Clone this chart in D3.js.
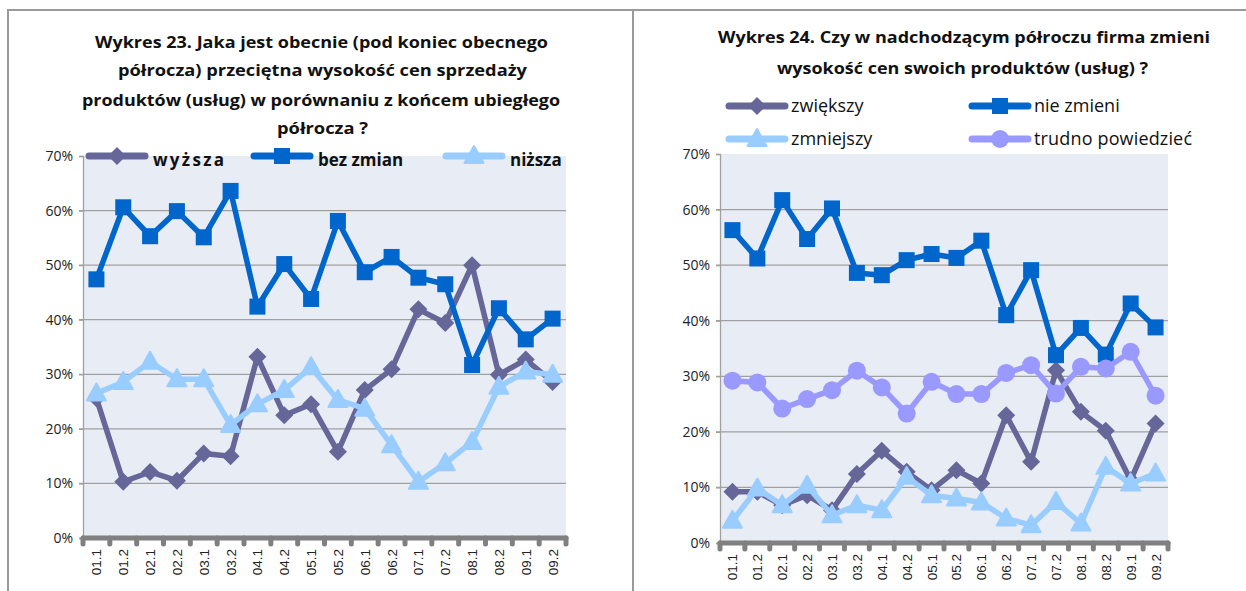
<!DOCTYPE html>
<html>
<head>
<meta charset="utf-8">
<script src="https://cdn.jsdelivr.net/npm/d3@7/dist/d3.min.js"></script>
<style>
  body { margin: 0; background: #fff; }
  svg { display: block; font-family: "Liberation Sans", Arial, sans-serif; }
  .title { font-family: "Open Sans", sans-serif; font-weight: bold; fill: #111; }
  .tick-label { font-size: 13px; fill: #222; }
</style>
</head>
<body>
<script>
/****************************************/
/*****  Data   *****/
/****************************************/
const periods = ["01.1", "01.2", "02.1", "02.2", "03.1", "03.2", "04.1", "04.2", "05.1",
  "05.2", "06.1", "06.2", "07.1", "07.2", "08.1", "08.2", "09.1", "09.2"];
const yTicks = [0, 10, 20, 30, 40, 50, 60, 70];

// Wykres 23
const wyzsza = [25.6, 10.3, 12.1, 10.5, 15.5, 15.0, 33.2, 22.5, 24.5, 15.8, 27.1, 30.9, 41.9, 39.4, 50.0, 29.9, 32.7, 28.6];
const bezZmian = [47.4, 60.6, 55.3, 59.9, 55.1, 63.6, 42.4, 50.2, 43.8, 58.1, 48.7, 51.5, 47.7, 46.5, 31.7, 42.1, 36.4, 40.2];
const nizsza = [26.5, 28.6, 32.3, 29.1, 29.1, 20.7, 24.5, 27.1, 31.3, 25.3, 23.7, 17.0, 10.3, 13.7, 17.6, 27.7, 30.5, 29.9];

// Wykres 24
const zwiekszy = [9.2, 9.2, 6.8, 8.6, 5.9, 12.4, 16.6, 12.8, 9.5, 13.1, 10.7, 23.0, 14.6, 31.1, 23.6, 20.2, 11.3, 21.5];
const nieZmieni = [56.3, 51.2, 61.7, 54.7, 60.2, 48.6, 48.2, 50.9, 52.0, 51.3, 54.4, 41.0, 49.1, 33.8, 38.7, 33.9, 43.1, 38.8];
const zmniejszy = [4.0, 9.8, 6.8, 10.3, 5.0, 6.8, 5.9, 11.9, 8.6, 8.0, 7.3, 4.4, 3.2, 7.4, 3.5, 13.7, 10.7, 12.5];
const trudno = [29.2, 28.9, 24.2, 25.9, 27.5, 31.0, 28.0, 23.3, 29.0, 26.8, 26.8, 30.6, 32.0, 26.9, 31.7, 31.4, 34.4, 26.5];

const colors = { purple: "#666699", blue: "#0066cc", light: "#99ccff", lilac: "#9999ff" };

/****************************************/
/*****  Frame   *****/
/****************************************/
const width = 1246;
const height = 591;
const svg = d3.select("body").append("svg")
  .attr("width", width)
  .attr("height", height);

svg.append("line")
  .attr("x1", 7).attr("x2", width).attr("y1", 10).attr("y2", 10)
  .attr("stroke", "#9a9a9a").attr("stroke-width", 2);
[8, 633].forEach(x => {
  svg.append("line")
    .attr("x1", x).attr("x2", x).attr("y1", 9).attr("y2", height)
    .attr("stroke", "#9a9a9a").attr("stroke-width", 2);
});

// marker shapes
function drawMarker(g, shape, x, y, color) {
  if (shape === "square") {
    g.append("rect").attr("x", x - 8).attr("y", y - 8).attr("width", 16).attr("height", 16).attr("fill", color);
  } else if (shape === "diamond") {
    g.append("path").attr("d", `M${x},${y - 9}L${x + 9},${y}L${x},${y + 9}L${x - 9},${y}Z`).attr("fill", color);
  } else if (shape === "triangle") {
    g.append("path").attr("d", `M${x},${y - 10}L${x + 9.5},${y + 7}L${x - 9.5},${y + 7}Z`)
      .attr("fill", color).attr("stroke", color).attr("stroke-width", 2).attr("stroke-linejoin", "round");
  } else {
    g.append("circle").attr("cx", x).attr("cy", y).attr("r", 9).attr("fill", color);
  }
}

/****************************************/
/*****  Chart builder   *****/
/****************************************/
function drawChart(cfg) {
  const g = svg.append("g");

  // title
  cfg.title.forEach(t => {
    g.append("text")
      .attr("class", "title")
      .attr("x", t.x)
      .attr("y", t.y)
      .attr("font-size", 16.5)
      .attr("textLength", t.w)
      .attr("lengthAdjust", "spacingAndGlyphs")
      .text(t.text);
  });

  const x = d3.scaleBand().domain(periods).range([cfg.left, cfg.right]);
  const y = d3.scaleLinear().domain([0, 70]).range([cfg.bottom, cfg.top]);

  // plot area
  g.append("rect")
    .attr("x", cfg.left).attr("y", cfg.top)
    .attr("width", cfg.right - cfg.left).attr("height", cfg.bottom - cfg.top)
    .attr("fill", "#e8ecf4");

  // gridlines
  g.append("g").selectAll("line")
    .data(yTicks.filter(d => d > 0 && d < 70))
    .join("line")
      .attr("x1", cfg.left - 4).attr("x2", cfg.right)
      .attr("y1", d => y(d)).attr("y2", d => y(d))
      .attr("stroke", "#a0a0a0").attr("stroke-width", 1.3);

  // y axis
  const yAxis = g.append("g")
    .attr("transform", `translate(${cfg.left},0)`)
    .call(d3.axisLeft(y).tickValues(yTicks).tickSize(4).tickFormat(d => d + "%"));
  yAxis.select(".domain").attr("stroke", "#a0a0a0").attr("stroke-width", 1.3);
  yAxis.selectAll(".tick line").attr("stroke", "#a0a0a0").attr("stroke-width", 1.3);
  yAxis.selectAll(".tick text").attr("class", "tick-label").attr("x", -10)
    .attr("font-family", "'Open Sans', sans-serif").style("font-size", "14px");

  // x axis: thick gray line with rounded ticks
  const xAxis = g.append("g");
  const boundaries = periods.map(p => x(p)).concat([cfg.right]);
  xAxis.append("line")
    .attr("x1", cfg.left).attr("x2", cfg.right)
    .attr("y1", cfg.bottom).attr("y2", cfg.bottom)
    .attr("stroke", "#808080").attr("stroke-width", 5).attr("stroke-linecap", "round");
  xAxis.selectAll(".xt")
    .data(boundaries)
    .join("line")
      .attr("class", "xt")
      .attr("x1", d => d).attr("x2", d => d)
      .attr("y1", cfg.bottom).attr("y2", cfg.bottom + 6)
      .attr("stroke", "#808080").attr("stroke-width", 5).attr("stroke-linecap", "round");
  xAxis.selectAll(".xl")
    .data(periods)
    .join("text")
      .attr("class", "tick-label")
      .attr("text-anchor", "end")
      .style("font-size", "13.5px")
      .attr("transform", d => `translate(${x(d) + x.bandwidth() / 2 + 5},${cfg.bottom + 11}) rotate(-90)`)
      .text(d => d);

  // series
  const line = d3.line()
    .x((d, i) => x(periods[i]) + x.bandwidth() / 2)
    .y(d => y(d));
  cfg.series.forEach(s => {
    const sg = g.append("g");
    sg.append("path")
      .attr("d", line(s.values))
      .attr("fill", "none")
      .attr("stroke", s.color)
      .attr("stroke-width", 5.5)
      .attr("stroke-linejoin", "round");
    s.values.forEach((v, i) => drawMarker(sg, s.shape, x(periods[i]) + x.bandwidth() / 2, y(v), s.color));
  });

  // legend
  cfg.series.forEach(s => {
    const lg = g.append("g");
    lg.append("line")
      .attr("x1", s.lx).attr("x2", s.lx + 56)
      .attr("y1", s.ly).attr("y2", s.ly)
      .attr("stroke", s.color).attr("stroke-width", 7).attr("stroke-linecap", "round");
    drawMarker(lg, s.shape, s.lx + 28, s.ly, s.color);
    const txt = lg.append("text")
      .attr("x", s.lx + 62 + (cfg.legendBold ? 2 : 0))
      .attr("y", s.ly + (cfg.legendBold ? 10 : 6))
      .attr("font-family", "'Open Sans', sans-serif")
      .attr("font-size", cfg.legendBold ? 17 : 18)
      .attr("font-weight", cfg.legendBold ? "bold" : "normal")
      .attr("fill", "#111")
      .text(s.name);
    if (s.tw) txt.attr("textLength", s.tw).attr("lengthAdjust", "spacing");
  });
}

drawChart({
  left: 83, right: 566, top: 156, bottom: 538,
  legendBold: true,
  title: [
    { text: "Wykres 23. Jaka jest obecnie (pod koniec obecnego", x: 95, y: 48, w: 453 },
    { text: "półrocza) przeciętna wysokość cen  sprzedaży", x: 118, y: 76, w: 409 },
    { text: "produktów (usług) w porównaniu z końcem ubiegłego", x: 82, y: 106, w: 478 },
    { text: "półrocza ?", x: 277, y: 134, w: 91 }
  ],
  series: [
    { name: "wyższa", values: wyzsza, color: colors.purple, shape: "diamond", lx: 89, ly: 156, tw: 71 },
    { name: "bez zmian", values: bezZmian, color: colors.blue, shape: "square", lx: 254, ly: 156 },
    { name: "niższa", values: nizsza, color: colors.light, shape: "triangle", lx: 446, ly: 156 }
  ]
});

drawChart({
  left: 720, right: 1168, top: 154, bottom: 543,
  legendBold: false,
  title: [
    { text: "Wykres 24. Czy w nadchodzącym półroczu firma zmieni", x: 718, y: 43, w: 492 },
    { text: "wysokość cen swoich produktów (usług) ?", x: 777, y: 74, w: 371 }
  ],
  series: [
    { name: "zwiększy", values: zwiekszy, color: colors.purple, shape: "diamond", lx: 729, ly: 106 },
    { name: "nie zmieni", values: nieZmieni, color: colors.blue, shape: "square", lx: 972, ly: 106 },
    { name: "zmniejszy", values: zmniejszy, color: colors.light, shape: "triangle", lx: 729, ly: 139 },
    { name: "trudno powiedzieć", values: trudno, color: colors.lilac, shape: "circle", lx: 972, ly: 139, tw: 158 }
  ]
});
</script>
</body>
</html>
